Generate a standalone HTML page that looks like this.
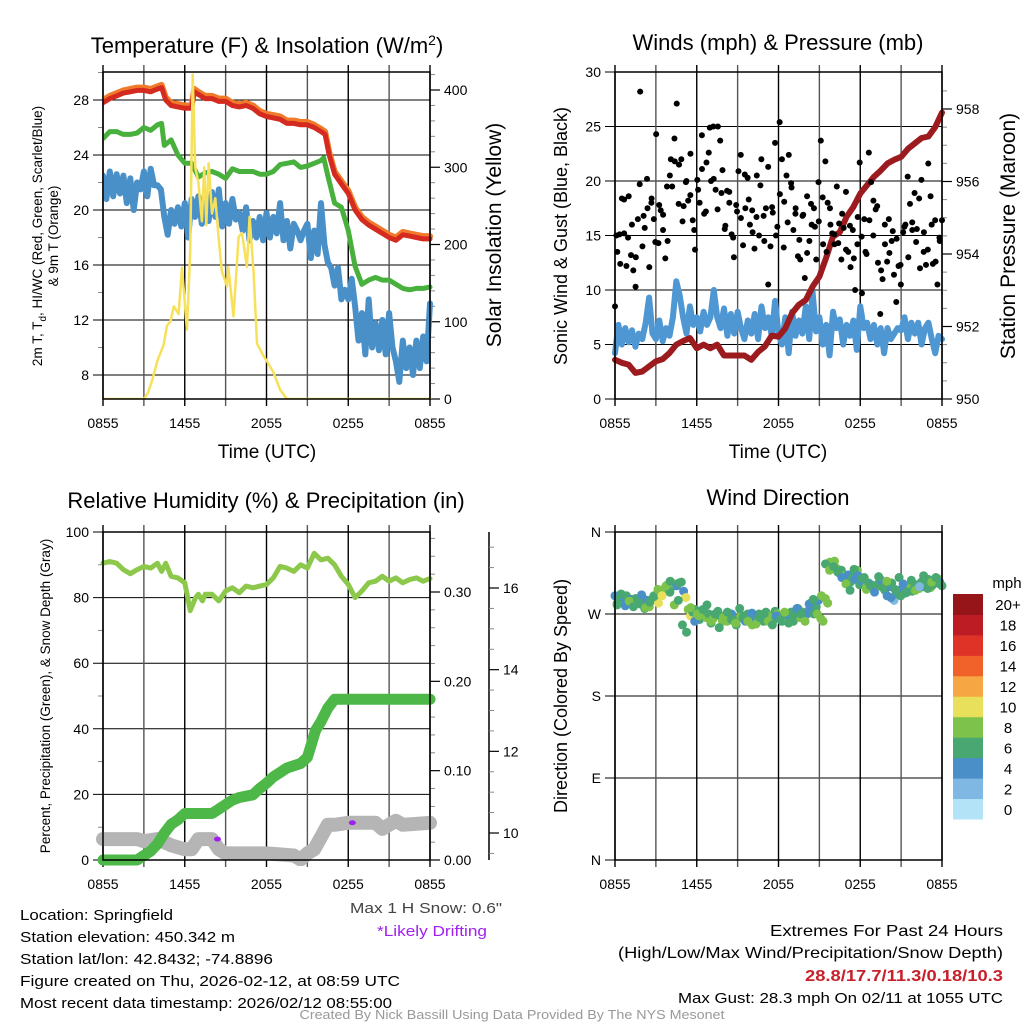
<!DOCTYPE html>
<html><head><meta charset="utf-8"><style>
html,body{margin:0;padding:0;background:#fff;}
svg{display:block;font-family:"Liberation Sans",sans-serif;}
</style></head><body>
<svg id="fig" xmlns="http://www.w3.org/2000/svg" width="1024" height="1024" viewBox="0 0 1024 1024"></svg>
<script>
// ---------- DATA ----------
const xTickLabels = ["0855","1455","2055","0255","0855"];
const tempTicks = [8,12,16,20,24,28];
const solarTicks = [0,100,200,300,400];
const windTicks = [0,5,10,15,20,25,30];
const presTicks = [950,952,954,956,958];
const rhTicks = [0,20,40,60,80,100];
const precipTicks = [0,0.1,0.2,0.3];
const precipTickLabels = ["0.00","0.10","0.20","0.30"];
const snowTicks = [10,12,14,16];
const dirTicks = [0,90,180,270,360];
const dirTickLabels = ["N","E","S","W","N"];
const speedBins = ["0","2","4","6","8","10","12","14","16","18","20+"];
const speedColors = ["#b3e3f7","#7fb9e3","#4a8fc7","#49a872","#7dc24a","#e8e05a","#f6a744","#f0622a","#df3327","#bd1c24","#951519"];

const redTimes = [0,0.5,1,1.5,2,2.5,3,3.5,4,4.3,4.6,5,5.5,6,6.5,6.7,7,7.5,8,8.5,9,9.5,10,10.5,11,11.5,12,12.5,13,13.5,14,14.5,15,15.5,16,16.3,16.6,17,17.5,18,18.5,19,19.5,20,20.5,21,21.5,22,22.5,23,23.5,24];
const redTemp = [27.8,28.1,28.3,28.5,28.6,28.7,28.7,28.6,28.8,28.9,28.0,27.6,27.5,27.4,27.4,28.6,28.4,28.1,28.1,27.9,27.9,27.6,27.5,27.6,27.4,27.0,26.8,26.7,26.6,26.3,26.3,26.2,26.2,26.0,25.7,25.5,24.0,22.6,21.9,21.2,20.0,19.3,18.9,18.6,18.3,18.0,17.8,18.2,18.1,18.0,17.9,17.9];
const greenTimes = [0,0.5,1,1.5,2,2.5,3,3.5,4,4.3,4.5,5,5.5,6,6.5,7,7.5,8,8.5,9,9.5,10,10.5,11,11.5,12,12.5,13,13.5,14,14.5,15,15.5,16,16.2,16.5,17,17.5,18,18.5,19,19.5,20,20.5,21,21.5,22,22.5,23,23.5,24];
const greenTemp = [25.2,25.7,25.7,25.5,25.5,25.6,26.0,25.8,26.2,26.3,24.7,25.1,24.0,23.4,23.4,22.4,22.7,22.8,22.6,22.3,23.0,22.8,22.8,22.8,22.6,22.6,22.8,23.3,23.4,23.5,23.1,23.2,23.4,23.6,23.8,22.5,20.5,20.2,18.5,15.9,14.6,14.9,15.1,14.9,14.9,14.6,14.3,14.2,14.3,14.3,14.4];
const blueTemp = [22.5,20.8,22.8,21.0,22.6,21.2,22.5,20.5,22.3,20.0,22.0,21.5,22.8,21.0,23.0,21.8,21.8,21.5,19.5,18.2,20.0,19.0,20.2,18.8,20.5,18.0,20.8,19.5,21.0,19.0,20.5,19.2,21.3,19.5,21.5,18.8,20.5,19.0,20.8,19.3,19.8,18.5,20.2,17.8,19.2,18.0,19.5,17.8,19.8,18.0,19.5,18.3,20.5,17.8,19.2,17.2,19.0,18.5,17.8,18.5,19.0,16.5,18.5,16.8,20.5,17.5,16.2,15.8,14.5,15.8,13.5,14.2,13.5,15.0,13.0,10.5,12.5,9.5,13.5,10.0,11.8,9.8,12.0,9.5,12.5,10.0,9.0,7.5,10.5,8.5,10.0,8.0,10.5,8.5,10.8,9.0,13.2];
const solarTimes = [0,3.0,3.3,3.6,4.0,4.45,4.7,4.94,5.2,5.55,5.8,6.16,6.4,6.58,6.77,7.0,7.26,7.43,7.58,7.75,8.0,8.24,8.48,8.73,9.1,9.2,9.58,9.95,10.2,10.56,10.76,11.05,11.3,11.8,12.0,12.5,13.0,13.5,24];
const solarVals = [0,0,8,24,50,70,95,100,120,110,170,90,190,420,300,280,230,300,225,305,240,260,210,165,146,171,107,210,215,171,236,163,72,55,50,35,12,0,0];

const windSpeed = [4.2,6.8,5.0,6.5,5.2,6.3,4.8,6.0,5.5,7.0,9.3,6.0,5.5,7.2,5.3,6.5,5.8,7.5,10.8,9.5,7.5,6.0,8.5,6.8,7.5,6.2,8.0,6.8,7.5,10.0,7.5,6.5,8.3,5.8,7.8,6.0,8.0,6.5,5.5,7.2,6.0,7.8,5.5,8.5,6.5,7.5,5.8,9.0,6.0,5.0,7.5,4.2,8.0,5.8,7.2,6.0,8.5,5.5,9.8,6.2,7.5,5.0,6.8,4.0,8.0,6.5,7.3,5.0,6.8,5.8,7.2,4.5,8.5,6.5,7.0,5.5,6.8,5.0,6.5,4.2,6.5,5.5,6.0,6.5,6.3,7.5,5.5,7.0,6.0,7.0,5.0,6.5,7.0,5.5,4.2,5.8,5.5];
const gustSpeed = [8.5,13.5,15.1,18.4,15.2,12.2,18.6,13.2,11.8,10.3,16.5,28.2,
14.0,15.7,20.2,12.1,18.4,16.5,24.3,14.3,17.3,15.5,12.9,14.5,
20.5,19.5,23.9,27.1,21.5,22.0,17.7,19.9,18.2,22.5,16.4,13.7,
20.1,18.0,24.2,17.0,21.7,22.6,20.0,25.0,19.2,25.0,23.7,21.0,
15.6,19.1,18.0,15.1,13.0,17.8,20.9,22.4,14.1,17.5,20.3,16.0,
17.3,13.8,20.5,15.0,22.0,16.8,17.5,10.5,14.0,17.1,23.5,15.8,
25.4,22.0,18.1,20.5,22.4,19.8,15.5,17.5,13.1,12.8,16.8,11.1,
18.6,14.5,16.0,17.5,12.8,19.9,23.7,14.2,21.8,18.0,17.5,15.2,
14.2,19.5,16.1,12.8,15.7,19.0,13.5,12.1,15.5,10.0,14.2,21.7,
9.7,16.5,13.3,22.6,19.9,18.2,17.4,12.5,7.8,11.0,16.0,12.6,
13.4,14.5,11.4,8.9,12.2,10.5,15.3,16.0,20.4,17.9,15.5,18.9,
15.6,18.4,20.1,13.5,12.3,21.6,18.6,12.4,16.4,10.5,14.5,16.4];
const gustSpeed2 = [15.0,12.4,18.3,14.8,16.0,13.0,19.7,16.8,17.5,18.0,14.4,17.8,
16.9,19.5,22.0,21.8,17.9,16.3,20.0,18.7,15.5,19.2,21.1,17.2,
24.9,20.2,17.4,18.9,15.9,19.0,14.8,17.2,16.6,20.6,18.3,15.3,
16.7,19.6,14.5,21.3,17.6,15.0,18.8,13.9,16.2,19.4,17.0,14.6,
16.9,13.4,17.9,15.8,16.3,18.5,13.5,16.0,15.1,14.3,17.0,13.7,
15.9,12.9,16.7,14.9,13.5,16.4,15.0,17.7,11.8,14.2,16.5,15.4,
14.7,12.3,15.8,13.0,16.2,14.4,12.0,15.3,13.7,16.0,12.6,14.8];
const presTimes = [0,0.5,1,1.5,2,2.5,3,3.5,4,4.5,5,5.5,6,6.5,7,7.5,8,8.5,9,9.5,10,10.5,11,11.5,12,12.5,13,13.5,14,14.5,15,15.5,16,16.5,17,17.5,18,18.5,19,19.5,20,20.5,21,21.5,22,22.5,23,23.5,24];
const presVals = [951.08,951.0,950.95,950.72,950.76,950.9,951.04,951.1,951.27,951.5,951.6,951.68,951.4,951.5,951.4,951.5,951.2,951.2,951.2,951.2,951.08,951.3,951.45,951.75,951.72,951.95,952.37,952.6,952.73,953.1,953.38,953.9,954.48,954.6,955.03,955.3,955.67,955.9,956.13,956.3,956.5,956.6,956.68,956.9,957.05,957.2,957.24,957.5,957.9];

const rhTimes = [0,0.5,1,1.5,2,2.5,3,3.5,4,4.3,4.6,5,5.5,6,6.4,6.8,7,7.3,7.5,8,8.5,9,9.5,10,10.5,11,11.5,12,12.5,13,13.5,14,14.5,15,15.5,16,16.5,17,17.5,18,18.5,19,19.5,20,20.5,21,21.5,22,22.5,23,23.5,24];
const rhVals = [90.5,91,90.5,88.5,87.3,88.5,89.5,89,90.5,88,90.5,86.5,86,84.5,76,80,81,79,81,81,79,82,83,81.5,83.5,83,83.5,84,86,89.5,89,88,90,89,93.5,91.5,92,90,86.5,84,80,82,84.5,85,86.5,85,86,84.5,85.5,86,85,85.8];
const precipTimes = [0,2.5,3,3.5,4,4.5,5,5.5,6,8,8.5,9,9.5,10,11,11.5,12,12.5,13,13.5,14.5,15,15.3,15.6,16,16.5,17,24];
const precipVals = [0,0,0.005,0.01,0.018,0.03,0.04,0.045,0.052,0.052,0.057,0.062,0.067,0.07,0.073,0.08,0.086,0.093,0.098,0.103,0.108,0.115,0.13,0.145,0.155,0.17,0.18,0.18];
const snowTimes = [0,2.5,3,4,5,6,6.5,7,8,8.5,9,10,12,14,14.5,15,15.5,16,16.5,17,18,19,20,20.5,21,21.5,22,24];
const snowVals = [9.85,9.85,9.8,9.85,9.7,9.6,9.6,9.85,9.85,9.6,9.5,9.5,9.5,9.45,9.35,9.5,9.6,9.9,10.2,10.2,10.25,10.25,10.25,10.1,10.2,10.3,10.2,10.25];
const driftTimes = [8.4,18.3];
const driftVals = [9.85,10.25];

const dirVals = [290,282,287,285,288,290,283,286,280,287,284,281,
288,276,285,278,286,290,288,282,292,296,299,302,
294,300,303,301,304,305,295,288,275,268,272,275,
270,264,268,273,266,270,260,265,270,273,268,262,
265,262,268,270,262,258,265,268,266,262,270,265,
258,264,268,270,265,262,272,266,268,262,273,270,
267,262,270,265,268,272,262,270,276,266,272,268,
270,275,283,270,278,285,265,262,287,282,327,322,
328,320,315,318,312,310,313,305,310,308,318,302,
306,310,300,304,302,298,300,303,308,305,296,290,
300,304,285,292,296,290,298,293,300,302,295,299,
302,298,305,300,303,308,299,302,306,309,305,301];
const dirSpeed = [4,6,7,6,5,7,6,4,7,6,7,6,
7,6,5,8,6,7,9,10,10,9,8,7,
6,7,8,4,6,7,5,10,8,10,7,6,
8,6,7,5,8,6,7,8,6,7,6,8,
7,8,6,5,8,7,6,8,7,4,6,7,
8,5,6,7,8,6,7,5,8,6,7,8,
4,6,7,8,5,6,7,4,6,8,7,10,
5,4,8,6,7,4,8,9,8,8,8,6,
8,9,7,6,8,7,4,6,7,5,8,7,
4,6,9,7,5,4,8,6,7,4,6,4,
5,6,3,7,4,6,5,7,6,8,6,7,
6,8,7,4,6,7,8,6,7,8,4,7];
const dirVals2 = [280,292,279,284,278,286,291,277,283,289,
297,290,301,306,280,285,258,250,277,262,
268,275,280,262,270,255,266,272,264,260,
276,268,262,271,259,266,270,262,258,268,
264,272,260,268,276,270,262,281,286,270,
290,325,318,322,316,310,303,296,319,312,
309,297,301,294,311,299,306,288,297,310,
303,294,307,296,300,312,298,305,310,303];
const dirSpeed2 = [6,7,4,8,6,7,5,8,6,7,
8,10,9,7,8,6,6,7,8,5,
8,6,7,9,6,7,8,6,7,8,
6,7,8,4,8,6,7,8,6,4,
7,8,6,7,4,6,8,4,6,8,
8,7,8,6,7,4,8,6,7,4,
7,8,6,4,7,6,8,4,7,6,
4,7,6,8,3,6,7,8,7,6];

// ---------- HELPERS ----------
const NS = "http://www.w3.org/2000/svg";
const svg = document.getElementById('fig');
function mk(tag, attrs, parent){
  const e = document.createElementNS(NS, tag);
  for (const k in attrs) e.setAttribute(k, attrs[k]);
  (parent||svg).appendChild(e);
  return e;
}
function txt(s, attrs, parent){ const e = mk('text', attrs, parent); e.textContent = s; return e; }
function lin(d0,d1,r0,r1){ return v => r0 + (v-d0)*(r1-r0)/(d1-d0); }
function pathD(xs, ys, xf, yf){ return xs.map((t,i)=>(i?'L':'M')+xf(t).toFixed(1)+','+yf(ys[i]).toFixed(1)).join(''); }
function uniformTimes(n){ return Array.from({length:n},(_,i)=>i*24/(n-1)); }

function frame(g, X0, X1, Y0, Y1, xf){
  for (let h=0; h<=24; h+=3){
    const x = xf(h);
    const l = mk('line',{x1:x,x2:x,y1:Y0-7,y2:Y1+7,stroke:(h%6===0)?'#000':'#555','stroke-width':1.4},g);
    
    
  }
  for (let i=0;i<5;i++){
    const t = txt(xTickLabels[i],{x:xf(i*6),y:Y1+29,'font-size':14,'text-anchor':'middle'},g);
    
    
  }
}
function border(g,X0,X1,Y0,Y1){
  const r = mk('rect',{x:X0,y:Y0,width:X1-X0,height:Y1-Y0,fill:'none',stroke:'#000','stroke-width':1.5},g);
  
  
}
function hgrid(g,X0,X1,ticks,yf,labels,minorTicks){
  ticks.forEach((v,i)=>{
    const y=yf(v);
    const l=mk('line',{x1:X0-10,x2:X1,y1:y,y2:y,stroke:'#000','stroke-width':1},g);
    
    
    const t=txt(labels?labels[i]:String(v),{x:X0-14,y:y+5,'font-size':14,'text-anchor':'end'},g);
    
    
  });
  (minorTicks||[]).forEach(v=>{
    const y=yf(v);
    const l=mk('line',{x1:X0-5,x2:X0,y1:y,y2:y,stroke:'#888','stroke-width':1},g);
    
    
  });
}
function rightAxis(g,X,ticks,yf,labels,minor){
  ticks.forEach((v,i)=>{
    const y=yf(v);
    const l=mk('line',{x1:X,x2:X+10,y1:y,y2:y,stroke:'#000','stroke-width':1.2},g);
    
    
    const t=txt(labels?labels[i]:String(v),{x:X+14,y:y+5,'font-size':14},g);
    
    
  });
  minor.forEach(v=>{
    const y=yf(v);
    const l=mk('line',{x1:X,x2:X+5,y1:y,y2:y,stroke:'#888','stroke-width':1},g);
    
    
  });
}
function range(a,b,s){ const r=[]; for(let v=a; v<=b+1e-9; v+=s) r.push(+v.toFixed(4)); return r; }
function line(g,xs,ys,xf,yf,color,w,name){
  const p=mk('path',{d:pathD(xs,ys,xf,yf),fill:'none',stroke:color,'stroke-width':w,'stroke-linejoin':'round','stroke-linecap':'round'},g);
  
  
  return p;
}
function rotLabel(g,s,x,y,size,name){
  const t=txt(s,{x:0,y:0,'font-size':size,'text-anchor':'middle',transform:`translate(${x},${y}) rotate(-90)`},g);
  
  
  return t;
}

// ---------- PANEL 1 ----------
{
  const g=mk('g',{});
  
  
  const X0=103,X1=430,Y0=72,Y1=399;
  const xf=lin(0,24,X0,X1), yT=lin(8,28,375,100), yS=lin(0,400,399,90);
  hgrid(g,X0,X1,tempTicks,yT,null,[10,14,18,22,26,30]);
  frame(g,X0,X1,Y0,Y1,xf);
  rightAxis(g,X1,solarTicks,yS,null,range(20,420,20).filter(v=>v%100!==0));
  const cp=mk('clipPath',{id:'c1'},g); mk('rect',{x:X0,y:Y0-8,width:X1-X0+3,height:Y1-Y0+8},cp);
  const d=mk('g',{'clip-path':'url(#c1)'},g);
  line(d,uniformTimes(blueTemp.length),blueTemp,xf,yT,'#4a90c8',6,'dewpoint-line-blue');
  line(d,greenTimes,greenTemp,xf,yT,'#48b03c',5,'dewpoint-line-green');
  line(d,redTimes,redTemp.map(v=>v+0.2),xf,yT,'#f07a2a',6,'9m-temp-line-orange');
  line(d,redTimes,redTemp,xf,yT,'#d42a20',5,'2m-temp-line-red');
  line(d,solarTimes,solarVals,xf,yS,'#f7e15a',2.5,'solar-insolation-line');
  border(g,X0,X1,Y0,Y1);
  const ti=txt('',{x:267,y:53,'font-size':22,'text-anchor':'middle'},g);
  ti.innerHTML='Temperature (F) &amp; Insolation (W/m<tspan dy="-8" font-size="14">2</tspan><tspan dy="8">)</tspan>';
  
  
  const l1=txt('',{x:0,y:0,'font-size':13.5,'text-anchor':'middle',transform:'translate(42,236) rotate(-90)'},g);
  l1.innerHTML='2m T, T<tspan dy="4" font-size="10">d</tspan><tspan dy="-4">, HI/WC (Red, Green, Scarlet/Blue)</tspan>';
  
  
  rotLabel(g,'& 9m T (Orange)',58,236,13.5,'left-axis-title-line2');
  rotLabel(g,'Solar Insolation (Yellow)',501,235,21,'right-axis-title');
  const xt=txt('Time (UTC)',{x:267,y:458,'font-size':19,'text-anchor':'middle'},g);
  
  
}

// ---------- PANEL 2 ----------
{
  const g=mk('g',{});
  
  
  const X0=615,X1=942,Y0=72,Y1=399;
  const xf=lin(0,24,X0,X1), yW=lin(0,30,399,72), yP=lin(950,958,399,109);
  hgrid(g,X0,X1,windTicks,yW);
  frame(g,X0,X1,Y0,Y1,xf);
  rightAxis(g,X1,presTicks,yP,null,range(950.5,958.5,0.5).filter(v=>v%2!==0));
  const cp=mk('clipPath',{id:'c2'},g); mk('rect',{x:X0-4,y:Y0,width:X1-X0+8,height:Y1-Y0},cp);
  const d=mk('g',{'clip-path':'url(#c2)'},g);
  line(d,uniformTimes(windSpeed.length),windSpeed,xf,yW,'#4f97d2',6,'sonic-wind-line');
  line(d,presTimes,presVals,xf,yP,'#9b1b1e',6,'station-pressure-line');
  gustSpeed.forEach((v,i)=>{
    const c=mk('circle',{cx:xf(i*24/143),cy:yW(v),r:3,fill:'#000'},d);
    
    
  });
  gustSpeed2.forEach((v,i)=>{
    const c=mk('circle',{cx:xf(i*24/gustSpeed2.length+0.1),cy:yW(v),r:3,fill:'#000'},d);
    
    
  });
  border(g,X0,X1,Y0,Y1);
  const ti=txt('Winds (mph) & Pressure (mb)',{x:778,y:50,'font-size':22,'text-anchor':'middle'},g);
  
  
  rotLabel(g,'Sonic Wind & Gust (Blue, Black)',567,236,18,'left-axis-title');
  rotLabel(g,'Station Pressure (Maroon)',1015,236,21,'right-axis-title');
  const xt=txt('Time (UTC)',{x:778,y:458,'font-size':19,'text-anchor':'middle'},g);
  
  
}

// ---------- PANEL 3 ----------
{
  const g=mk('g',{});
  
  
  const X0=103,X1=430,Y0=532,Y1=860;
  const xf=lin(0,24,X0,X1), yR=lin(0,100,860,532), yPr=lin(0,0.3,860,592), ySn=lin(10,16,833,588);
  hgrid(g,X0,X1,rhTicks,yR,null,[10,30,50,70,90]);
  frame(g,X0,X1,Y0,Y1,xf);
  rightAxis(g,X1,precipTicks,yPr,precipTickLabels,range(0.02,0.36,0.02).filter(v=>Math.round(v*100)%10!==0));
  const ax=mk('line',{x1:489,x2:489,y1:532,y2:860,stroke:'#000','stroke-width':1.5},g);
  
  
  rightAxis(g,489,snowTicks,ySn,null,range(9.5,17,0.5).filter(v=>v%2!==0 && ySn(v)>=532 && ySn(v)<=860));
  const cp=mk('clipPath',{id:'c3'},g); mk('rect',{x:X0-10,y:Y0,width:X1-X0+20,height:Y1-Y0+6},cp);
  const d=mk('g',{'clip-path':'url(#c3)'},g);
  line(d,snowTimes,snowVals,xf,ySn,'#b5b5b5',14,'snow-depth-line');
  line(d,precipTimes,precipVals,xf,yPr,'#4db848',11,'precipitation-line');
  line(d,rhTimes,rhVals,xf,yR,'#8cc84b',5,'relative-humidity-line');
  driftTimes.forEach((t,i)=>{
    const e=mk('ellipse',{cx:xf(t),cy:ySn(driftVals[i]),rx:3.5,ry:2.5,fill:'#a020f0'},d);
    
    
  });
  border(g,X0,X1,Y0,Y1);
  const ti=txt('Relative Humidity (%) & Precipitation (in)',{x:266,y:508,'font-size':22,'text-anchor':'middle'},g);
  
  
  rotLabel(g,'Percent, Precipitation (Green), & Snow Depth (Gray)',50,696,13.5,'left-axis-title');
}

// ---------- PANEL 4 ----------
{
  const g=mk('g',{});
  
  
  const X0=615,X1=942,Y0=532,Y1=860;
  const xf=lin(0,24,X0,X1), yD=lin(0,360,860,532);
  hgrid(g,X0,X1,dirTicks,yD,dirTickLabels);
  frame(g,X0,X1,Y0,Y1,xf);
  const cp=mk('clipPath',{id:'c4'},g); mk('rect',{x:X0-6,y:Y0,width:X1-X0+12,height:Y1-Y0},cp);
  const d=mk('g',{'clip-path':'url(#c4)'},g);
  dirVals.forEach((v,i)=>{
    const bin=Math.min(10,Math.floor(dirSpeed[i]/2));
    const c=mk('circle',{cx:xf(i*24/143),cy:yD(v),r:4.5,fill:speedColors[bin]},d);
    
    
  });
  dirVals2.forEach((v,i)=>{
    const bin=Math.min(10,Math.floor(dirSpeed2[i]/2));
    const c=mk('circle',{cx:xf(i*24/dirVals2.length+0.15),cy:yD(v),r:4.5,fill:speedColors[bin]},d);
    
    
  });
  border(g,X0,X1,Y0,Y1);
  const ti=txt('Wind Direction',{x:778,y:505,'font-size':22,'text-anchor':'middle'},g);
  
  
  rotLabel(g,'Direction (Colored By Speed)',567,696,18,'left-axis-title');
  const cb=mk('g',{},g);
  
  
  const segH=(819-594)/11;
  speedColors.forEach((c,i)=>{
    const y=819-(i+1)*segH;
    const r=mk('rect',{x:953,y:y,width:30,height:segH+0.5,fill:c},cb);
    
    
    const t=txt(speedBins[i],{x:1008,y:y+segH/2+6,'font-size':15,'text-anchor':'middle'},cb);
    
    
  });
  const u=txt('mph',{x:1007,y:588,'font-size':15,'text-anchor':'middle'},cb);
  
  
}

// ---------- FOOTER TEXT ----------
{
  const g=mk('g',{'font-size':15});
  
  
  const lines=['Location: Springfield','Station elevation: 450.342 m','Station lat/lon: 42.8432; -74.8896','Figure created on Thu, 2026-02-12, at 08:59 UTC','Most recent data timestamp: 2026/02/12 08:55:00'];
  const lens=[153,215,253,380,372];
  lines.forEach((s,i)=>{
    const t=txt(s,{x:20,y:920+i*22,textLength:lens[i],lengthAdjust:'spacingAndGlyphs'},g);
    
    
  });
  const s1=txt('Max 1 H Snow: 0.6"',{x:502,y:913,'text-anchor':'end',fill:'#444','font-size':15,textLength:152,lengthAdjust:'spacingAndGlyphs'},svg);
  
  
  const s2=txt('*Likely Drifting',{x:487,y:936,'text-anchor':'end',fill:'#a020f0','font-size':15,textLength:110,lengthAdjust:'spacingAndGlyphs'},svg);
  
  
  const r=mk('g',{'font-size':16,'text-anchor':'end'});
  
  
  const e1=txt('Extremes For Past 24 Hours',{x:1003,y:936,textLength:233,lengthAdjust:'spacingAndGlyphs'},r);
  
  
  const e2=txt('(High/Low/Max Wind/Precipitation/Snow Depth)',{x:1003,y:958,textLength:385,lengthAdjust:'spacingAndGlyphs'},r);
  
  
  const e3=txt('28.8/17.7/11.3/0.18/10.3',{x:1003,y:981,fill:'#c8202a','font-weight':'bold',textLength:198,lengthAdjust:'spacingAndGlyphs'},r);
  
  
  const e4=txt('Max Gust: 28.3 mph On 02/11 at 1055 UTC',{x:1003,y:1003,'font-size':15,textLength:325,lengthAdjust:'spacingAndGlyphs'},r);
  
  
  const f=txt('Created By Nick Bassill Using Data Provided By The NYS Mesonet',{x:512,y:1019,'text-anchor':'middle','font-size':12.5,fill:'#999',textLength:425,lengthAdjust:'spacingAndGlyphs'});
  
  
}
</script>
</body></html>
